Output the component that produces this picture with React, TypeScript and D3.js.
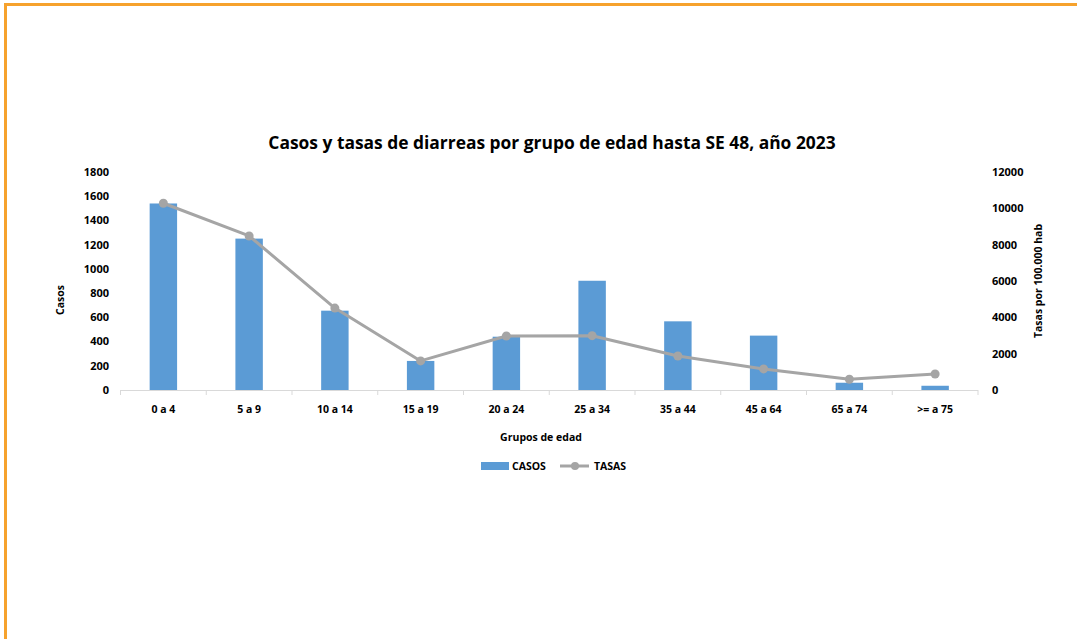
import React from "react";
import * as d3 from "d3";

const categories = ["0 a 4", "5 a 9", "10 a 14", "15 a 19", "20 a 24", "25 a 34", "35 a 44", "45 a 64", "65 a 74", ">= a 75"];
const casos = [1540, 1250, 655, 240, 440, 902, 567, 449, 60, 35];
const tasas = [10280, 8480, 4510, 1600, 2970, 2990, 1870, 1160, 590, 880];
const leftTicks = [0, 200, 400, 600, 800, 1000, 1200, 1400, 1600, 1800];
const rightTicks = [0, 2000, 4000, 6000, 8000, 10000, 12000];

const W = 1077;
const H = 639;
const FONT = "'Open Sans', 'Liberation Sans', sans-serif";

export default function App() {
  const left = 120.5, right = 978, top = 172, bottom = 390;
  const x = d3.scaleBand<string>().domain(categories).range([left, right]).paddingInner(0).paddingOuter(0);
  const yL = d3.scaleLinear().domain([0, 1800]).range([bottom, top]);
  const yR = d3.scaleLinear().domain([0, 12000]).range([bottom, top]);
  const bw = x.bandwidth() * 0.32;
  const line = d3.line<number>().x((_, i) => x(categories[i])! + x.bandwidth() / 2).y((d) => yR(d));
  const gray = "#A5A5A5";
  const blue = "#5B9BD5";
  const orange = "#F6A22D";

  return (
    <svg width={W} height={H} style={{ position: "absolute", left: 0, top: 0, background: "#fff" }} fontFamily={FONT}>
      <rect x={0} y={0} width={W} height={H} fill="#fff" />
      <line x1={4} y1={4.5} x2={W} y2={4.5} stroke={orange} strokeWidth={3} />
      <line x1={5.5} y1={3} x2={5.5} y2={H} stroke={orange} strokeWidth={3} />

      <text x={552} y={149} textAnchor="middle" fontSize={17.4} fontWeight={700} fill="#000">
        Casos y tasas de diarreas por grupo de edad hasta SE 48, año 2023
      </text>

      {/* left axis labels */}
      {leftTicks.map((t) => (
        <text key={"l" + t} x={109} y={yL(t)} dy="0.35em" textAnchor="end" fontSize={11} fontWeight={700} fill="#000">
          {t}
        </text>
      ))}
      {/* right axis labels */}
      {rightTicks.map((t) => (
        <text key={"r" + t} x={992} y={yR(t)} dy="0.35em" textAnchor="start" fontSize={11} fontWeight={700} fill="#000">
          {t}
        </text>
      ))}

      {/* bars */}
      {casos.map((v, i) => (
        <rect key={"b" + i} x={x(categories[i])! + x.bandwidth() / 2 - bw / 2} y={yL(v)} width={bw} height={bottom - yL(v)} fill={blue} />
      ))}

      {/* x axis */}
      <line x1={left} y1={bottom + 0.5} x2={right} y2={bottom + 0.5} stroke="#D9D9D9" strokeWidth={1} />
      {categories.concat([""]).map((_, i) => {
        const xx = left + i * x.bandwidth();
        return <line key={"t" + i} x1={xx} y1={bottom} x2={xx} y2={bottom + 5} stroke="#D9D9D9" strokeWidth={1} />;
      })}
      {categories.map((c) => (
        <text key={"c" + c} x={x(c)! + x.bandwidth() / 2} y={413} textAnchor="middle" fontSize={10.5} fontWeight={700} fill="#000">
          {c}
        </text>
      ))}

      {/* line */}
      <path d={line(tasas) || ""} fill="none" stroke={gray} strokeWidth={3} strokeLinejoin="round" />
      {tasas.map((v, i) => (
        <circle key={"p" + i} cx={x(categories[i])! + x.bandwidth() / 2} cy={yR(v)} r={4.5} fill={gray} />
      ))}

      {/* axis titles */}
      <text x={541} y={441} textAnchor="middle" fontSize={10.5} fontWeight={700} fill="#000">
        Grupos de edad
      </text>
      <text transform={`translate(64,300) rotate(-90)`} textAnchor="middle" fontSize={10.5} fontWeight={700} fill="#000">
        Casos
      </text>
      <text transform={`translate(1042,281) rotate(-90)`} textAnchor="middle" fontSize={10.5} fontWeight={700} fill="#000">
        Tasas por 100.000 hab
      </text>

      {/* legend */}
      <rect x={481} y={462} width={28} height={8} fill={blue} />
      <text x={512} y={470} fontSize={10.5} fontWeight={700} fill="#000">CASOS</text>
      <line x1={560} y1={466} x2={589} y2={466} stroke={gray} strokeWidth={3} />
      <circle cx={575} cy={466} r={4} fill={gray} />
      <text x={594} y={470} fontSize={10.5} fontWeight={700} fill="#000">TASAS</text>
    </svg>
  );
}
